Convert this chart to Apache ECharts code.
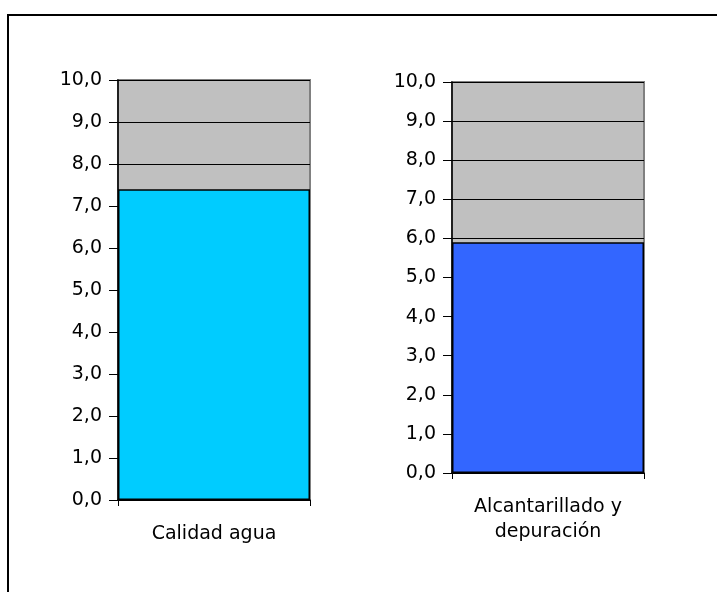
<!DOCTYPE html>
<html><head><meta charset="utf-8">
<script src="https://cdn.jsdelivr.net/npm/echarts@6/dist/echarts.min.js"></script>
<style>html,body{margin:0;padding:0;background:#fff}#c{width:717px;height:592px}</style>
</head><body><div id="c"></div>
<script>
const categoriesLeft = ['Calidad agua'];
const valuesLeft = [7.4];
const categoriesRight = ['Alcantarillado y\ndepuración'];
const valuesRight = [5.9];
const yMin = 0, yMax = 10, yStep = 1;

const font = 'Verdana, "DejaVu Sans", sans-serif';
const fmt = v => v.toFixed(1).replace('.', ',');
function yAx(i){
  return {gridIndex:i, type:'value', min:yMin, max:yMax, interval:yStep,
    axisLine:{show:true, lineStyle:{color:'#000', width:1.5}},
    axisTick:{show:true, length:9, lineStyle:{color:'#000'}},
    axisLabel:{formatter:fmt, color:'#000', fontFamily:font, fontSize:19, margin:16},
    splitLine:{show:true, lineStyle:{color:'#000', width:1}}};
}
function xAx(i, cats){
  return {gridIndex:i, type:'category', data:cats,
    axisLine:{show:true, lineStyle:{color:'#000', width:1.5}},
    axisTick:{show:true, length:6, alignWithLabel:false, lineStyle:{color:'#000'}},
    axisLabel:{color:'#000', fontFamily:font, fontSize:19, margin:22, lineHeight:25}};
}
const chart = echarts.init(document.getElementById('c'));
chart.setOption({
  animation:false,
  graphic:[{type:'rect', shape:{x:8, y:15, width:800, height:700},
    style:{fill:'none', stroke:'#000', lineWidth:2}, z:100}],
  grid:[
    {left:118, top:80, width:192, height:420, show:true, backgroundColor:'#C0C0C0', borderColor:'#808080', borderWidth:2},
    {left:452, top:82, width:192, height:391, show:true, backgroundColor:'#C0C0C0', borderColor:'#808080', borderWidth:2}
  ],
  xAxis:[xAx(0, categoriesLeft), xAx(1, categoriesRight)],
  yAxis:[yAx(0), yAx(1)],
  series:[
    {type:'bar', xAxisIndex:0, yAxisIndex:0, data:valuesLeft, barWidth:'100%',
      itemStyle:{color:'#00CCFF', borderColor:'#000', borderWidth:1.5}},
    {type:'bar', xAxisIndex:1, yAxisIndex:1, data:valuesRight, barWidth:'100%',
      itemStyle:{color:'#3366FF', borderColor:'#000', borderWidth:1.5}}
  ]
});
</script></body></html>
